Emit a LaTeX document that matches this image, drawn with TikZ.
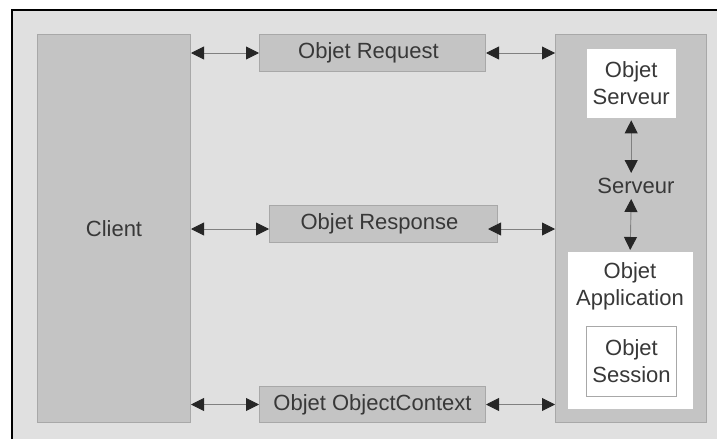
\documentclass[tikz,border=0pt]{standalone}
\usepackage{fontspec}
\setmainfont{Liberation Sans}
\usetikzlibrary{arrows.meta}
\definecolor{bg}{HTML}{E0E0E0}
\definecolor{boxfill}{HTML}{C4C4C4}
\definecolor{boxline}{HTML}{A8A8A8}
\definecolor{txt}{HTML}{383838}
\definecolor{arrline}{HTML}{808080}
\begin{document}
\begin{tikzpicture}[x=1pt,y=-1pt,
  every node/.style={font=\fontsize{22}{27}\selectfont, text=txt, inner sep=0pt, align=center},
  graybox/.style={draw=boxline, fill=boxfill, line width=1pt, anchor=north west},
  whitebox/.style={draw=white, fill=white, anchor=north west},
  sessbox/.style={draw=boxline, fill=white, line width=1pt, anchor=north west},
  biarrow/.style={draw=arrline, line width=0.9pt,
    {Triangle[length=13pt,width=13pt,color=black!85]}-{Triangle[length=13pt,width=13pt,color=black!85]}}]
\useasboundingbox (0,0) rectangle (717,439);
\fill[bg] (12,10) rectangle (717,439);
\draw[line width=1.5pt] (12,439) -- (12,10) -- (717,10);

% left column and middle boxes
\node[graybox, minimum width=153pt, minimum height=388pt] (client) at (37,34) {};
\node at (client.center) (clientlbl) {Client};
\node[graybox, minimum width=226pt, minimum height=37pt] (req) at (259,34) {};
\node at ([xshift=-4pt]req.center) (reqlbl) {Objet Request};
\node[graybox, minimum width=228pt, minimum height=37pt] (resp) at (269,205) {};
\node at ([xshift=-4pt]resp.center) (resplbl) {Objet Response};
\node[graybox, minimum width=226pt, minimum height=36pt] (ctx) at (259,386) {};
\node at (ctx.center) (ctxlbl) {Objet ObjectContext};

% server column
\node[graybox, minimum width=151pt, minimum height=388pt] (srv) at (555,34) {};
\node[whitebox, minimum width=88pt, minimum height=68pt] (srvobj) at (587,49) {};
\node at (srvobj.center) (srvobjlbl) {Objet\\Serveur};
\node (srvlbl) at (636,186) {Serveur};
\node[whitebox, minimum width=124pt, minimum height=156pt] (app) at (568,252) {};
\node (applbl) at (630,286) {Objet\\Application};
\node[sessbox, minimum width=90pt, minimum height=70pt] (sess) at (586,326) {};
\node at (sess.center) (sesslbl) {Objet\\Session};

% connectors
\coordinate (ry) at (0,229);
\coordinate (rr) at ([xshift=-10pt]resp.east);
\coordinate (a1) at (0,173);
\coordinate (a2) at (0,199);
\draw[biarrow] (client.east |- req.west) -- (req.west);
\draw[biarrow] (req.east) -- (srv.west |- req.east);
\draw[biarrow] (client.east |- ry) -- (resp.west |- ry);
\draw[biarrow] (rr |- ry) -- (srv.west |- ry);
\draw[biarrow] (client.east |- ctx.west) -- (ctx.west);
\draw[biarrow] (ctx.east) -- (srv.west |- ctx.east);
\draw[biarrow] ([yshift=-3pt]srvobj.south) -- (srvobj.south |- a1);
\draw[biarrow] (srvobj.south |- a2) -- ([yshift=2pt]app.north);
\end{tikzpicture}
\end{document}
